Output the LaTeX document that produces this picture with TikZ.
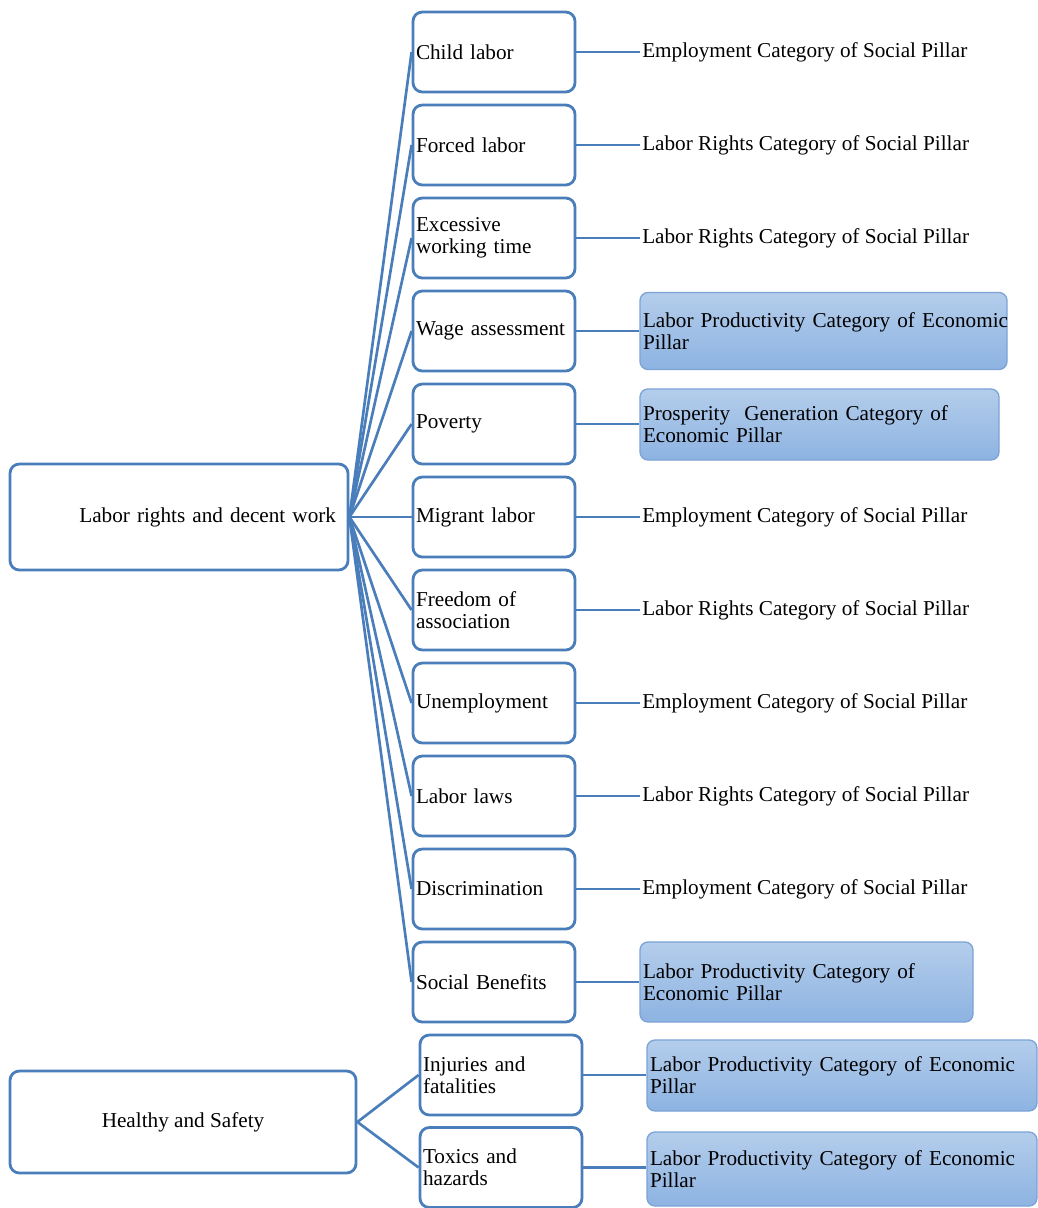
\documentclass[tikz,border=0pt]{standalone}
\usepackage{fontspec}
\setmainfont{Liberation Serif}
\definecolor{lineblue}{HTML}{4A7EBB}
\definecolor{econborder}{HTML}{7BA3D6}
\definecolor{econtop}{HTML}{B4CDEB}
\definecolor{econbot}{HTML}{8DB3E2}
\begin{document}
\begin{tikzpicture}[x=0.75pt,y=-0.75pt,
  font=\fontsize{15.9}{16.5}\selectfont,
  box/.style={draw=lineblue, line width=2.1pt, rounded corners=7pt, fill=white},
  mid/.style={box, minimum width=121.5pt, minimum height=60pt, text width=117pt, inner xsep=2.25pt, align=left},
  econ/.style={draw=econborder, line width=1pt, rounded corners=6pt, top color=econtop, bottom color=econbot, inner xsep=2.25pt, align=left},
  soc/.style={anchor=west, inner sep=1.5pt},
  conn/.style={draw=lineblue, line width=2pt}]
\useasboundingbox (0,0) rectangle (1038,1208);

% root nodes
\node[box, minimum width=253.5pt, minimum height=79.5pt, text width=235.5pt, inner xsep=9pt, align=right] (labor) at (179,517) {Labor rights and decent work};
\node[box, minimum width=259.5pt, minimum height=76.5pt, align=center] (health) at (183,1122) {Healthy and Safety};

% middle column
\node[mid] (child) at (494,52) {Child labor};
\node[mid] (forced) at (494,145) {Forced labor};
\node[mid] (excess) at (494,238) {Excessive\\working time};
\node[mid] (wage) at (494,331) {Wage assessment};
\node[mid] (poverty) at (494,424) {Poverty};
\node[mid] (migrant) at (494,517) {Migrant labor};
\node[mid] (freedom) at (494,610) {Freedom of\\association};
\node[mid] (unemp) at (494,703) {Unemployment};
\node[mid] (laws) at (494,796) {Labor laws};
\node[mid] (discr) at (494,889) {Discrimination};
\node[mid] (social) at (494,982) {Social Benefits};
\node[mid] (injur) at (501,1075) {Injuries and\\fatalities};
\node[mid] (toxic) at (501,1167.5) {Toxics and\\hazards};

% right column
\node[soc] (cchild) at (640,52) {Employment Category of Social Pillar};
\node[soc] (cforced) at (640,145) {Labor Rights Category of Social Pillar};
\node[soc] (cexcess) at (640,238) {Labor Rights Category of Social Pillar};
\node[econ, text width=270.75pt, minimum height=57.75pt] (cwage) at (823.5,331) {\mbox{Labor Productivity Category of Economic}\\Pillar};
\node[econ, text width=264.75pt, minimum height=53.25pt] (cpoverty) at (819.5,424.5) {\mbox{Prosperity\ \ Generation Category of}\\Economic Pillar};
\node[soc] (cmigrant) at (640,517) {Employment Category of Social Pillar};
\node[soc] (cfreedom) at (640,610) {Labor Rights Category of Social Pillar};
\node[soc] (cunemp) at (640,703) {Employment Category of Social Pillar};
\node[soc] (claws) at (640,796) {Labor Rights Category of Social Pillar};
\node[soc] (cdiscr) at (640,889) {Employment Category of Social Pillar};
\node[econ, text width=245.25pt, minimum height=60pt] (csocial) at (806.5,982) {\mbox{Labor Productivity Category of}\\Economic Pillar};
\node[econ, text width=288pt, minimum height=53.25pt] (cinjur) at (842,1075.5) {\mbox{Labor Productivity Category of Economic}\\Pillar};
\node[econ, text width=288pt, minimum height=55.5pt] (ctoxic) at (842,1169) {\mbox{Labor Productivity Category of Economic}\\Pillar};

% connectors root -> middle
\foreach \n in {child,forced,excess,wage,poverty,migrant,freedom,unemp,laws,discr,social}
  \draw[conn] (labor.east) -- (\n.west);
\foreach \n in {injur,toxic}
  \draw[conn] (health.east) -- (\n.west);

% connectors middle -> right
\foreach \a/\b in {child/cchild,forced/cforced,excess/cexcess,wage/cwage,poverty/cpoverty,migrant/cmigrant,freedom/cfreedom,unemp/cunemp,laws/claws,discr/cdiscr,social/csocial,injur/cinjur,toxic/ctoxic}
  \draw[conn] (\a.east) -- (\a.east -| \b.west);
\end{tikzpicture}
\end{document}
